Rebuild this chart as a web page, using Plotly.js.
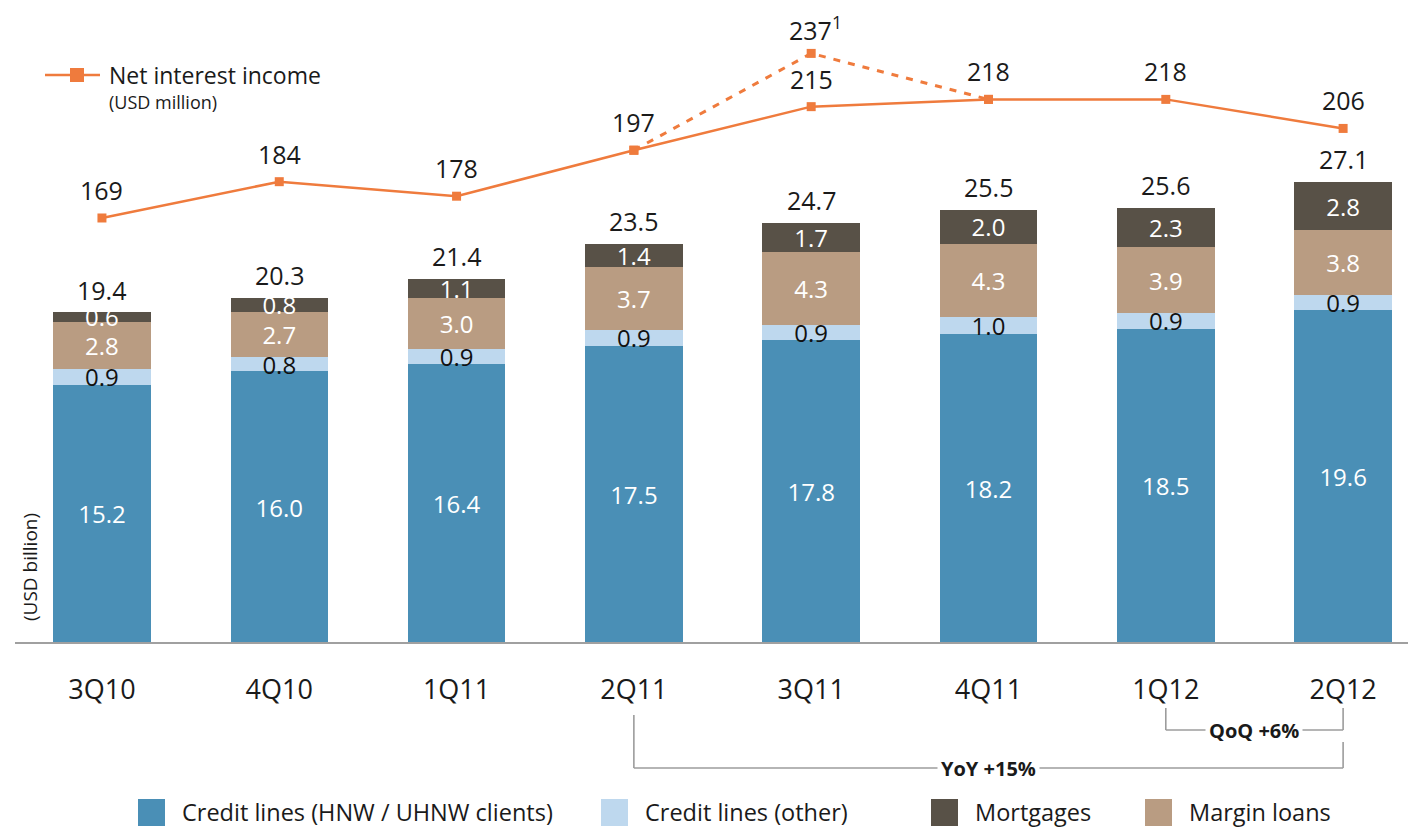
<!DOCTYPE html>
<html>
<head>
<meta charset="utf-8">
<script src="https://cdn.plot.ly/plotly-3.0.1.min.js"></script>
<style>html,body{margin:0;padding:0;background:#fff;}#chart{width:1408px;height:830px;}</style>
</head>
<body>
<div id="chart"></div>
<script>
// ---- data ----
var categories = ['3Q10','4Q10','1Q11','2Q11','3Q11','4Q11','1Q12','2Q12'];
var creditHNW   = [15.2, 16.0, 16.4, 17.5, 17.8, 18.2, 18.5, 19.6];
var creditOther = [0.9, 0.8, 0.9, 0.9, 0.9, 1.0, 0.9, 0.9];
var marginLoans = [2.8, 2.7, 3.0, 3.7, 4.3, 4.3, 3.9, 3.8];
var mortgages   = [0.6, 0.8, 1.1, 1.4, 1.7, 2.0, 2.3, 2.8];
var totals      = [19.4, 20.3, 21.4, 23.5, 24.7, 25.5, 25.6, 27.1];
var netInterestIncome = [169, 184, 178, 197, 215, 218, 218, 206];
var niiAdjCats  = ['2Q11','3Q11','4Q11'];
var niiAdjVals  = [197, 237, 218];
var niiAdjLabel = '237';
var seriesNames = ['Credit lines (HNW / UHNW clients)','Credit lines (other)','Mortgages','Margin loans'];
var lineName = 'Net interest income';
var lineUnit = '(USD million)';
var barUnit = '(USD billion)';
var yoyLabel = 'YoY +15%';
var qoqLabel = 'QoQ +6%';

// ---- styles ----
var FONT = 'Open Sans, Noto Sans, DejaVu Sans, sans-serif';
var C_HNW = '#4a8fb6', C_OTHER = '#bed8ee', C_MORT = '#585147', C_MARGIN = '#b99c82', C_LINE = '#ef7b3d';
var TXT = '#1a1a1a';

function fmt(a){ return a.map(function(v){ return v.toFixed(1); }); }
function barTrace(name, vals, color, txtColor){
  return {type:'bar', name:name, x:categories, y:vals, marker:{color:color, line:{width:0}},
    text:fmt(vals), textposition:'inside', insidetextanchor:'middle', constraintext:'none', textangle:0,
    insidetextfont:{family:FONT, size:24, color:txtColor}, hoverinfo:'skip', cliponaxis:false};
}
var traces = [
  barTrace(seriesNames[0], creditHNW, C_HNW, '#ffffff'),
  barTrace(seriesNames[1], creditOther, C_OTHER, '#111111'),
  barTrace(seriesNames[3], marginLoans, C_MARGIN, '#ffffff'),
  barTrace(seriesNames[2], mortgages, C_MORT, '#ffffff'),
  {type:'scatter', mode:'lines+markers', x:niiAdjCats, y:niiAdjVals, yaxis:'y2',
   line:{color:C_LINE, width:3, dash:'7px,8px'}, marker:{symbol:'square', size:9, color:C_LINE}, cliponaxis:false, hoverinfo:'skip'},
  {type:'scatter', mode:'lines+markers', name:lineName, x:categories, y:netInterestIncome, yaxis:'y2',
   line:{color:C_LINE, width:2.5}, marker:{symbol:'square', size:9, color:C_LINE}, cliponaxis:false, hoverinfo:'skip'}
];

// ---- geometry helpers (paper coords) ----
var W = 1408, PT = 20, PB = 643, PH = PB - PT;
function px(p){ return p / W; }
function py(p){ return (PB - p) / PH; }

var annotations = [];
categories.forEach(function(c, i){
  annotations.push({x:c, y:totals[i], xref:'x', yref:'y', text:totals[i].toFixed(1), showarrow:false,
    yanchor:'middle', yshift:23, font:{family:FONT, size:25, color:TXT}});
  annotations.push({x:c, y:netInterestIncome[i], xref:'x', yref:'y2', text:String(netInterestIncome[i]), showarrow:false,
    yanchor:'middle', yshift:28, font:{family:FONT, size:25, color:TXT}});
});
annotations.push({x:niiAdjCats[1], y:niiAdjVals[1], xref:'x', yref:'y2', text:niiAdjLabel + '<sup>1</sup>', showarrow:false,
  yanchor:'middle', yshift:25, xshift:4, font:{family:FONT, size:25, color:TXT}});

// top-left line legend
annotations.push({x:px(107), y:py(75), xref:'paper', yref:'paper', xanchor:'left', yanchor:'middle', showarrow:false,
  text:lineName, font:{family:FONT, size:23, color:TXT}});
annotations.push({x:px(107), y:py(102), xref:'paper', yref:'paper', xanchor:'left', yanchor:'middle', showarrow:false,
  text:lineUnit, font:{family:FONT, size:18, color:TXT}});
// y unit label
annotations.push({x:px(30), y:py(567), xref:'paper', yref:'paper', xanchor:'center', yanchor:'middle', showarrow:false,
  textangle:-90, text:barUnit, font:{family:FONT, size:19, color:TXT}});

var shapes = [
  {type:'line', xref:'paper', yref:'paper', x0:px(15), x1:1, y0:0, y1:0, line:{color:'#a0a0a0', width:2}},
  {type:'line', xref:'paper', yref:'paper', x0:px(45), x1:px(100), y0:py(75), y1:py(75), line:{color:C_LINE, width:2.5}},
  {type:'rect', xref:'paper', yref:'paper', x0:px(70), x1:px(84), y0:py(68), y1:py(82), fillcolor:C_LINE, line:{width:0}}
];

// bottom legend
var legendItems = [
  {name:seriesNames[0], color:C_HNW, sx:138},
  {name:seriesNames[1], color:C_OTHER, sx:601},
  {name:seriesNames[2], color:C_MORT, sx:931},
  {name:seriesNames[3], color:C_MARGIN, sx:1145}
];
legendItems.forEach(function(it){
  shapes.push({type:'rect', xref:'paper', yref:'paper', x0:px(it.sx), x1:px(it.sx+27), y0:py(799), y1:py(826), fillcolor:it.color, line:{width:0}});
  annotations.push({x:px(it.sx+42), y:py(812), xref:'paper', yref:'paper', xanchor:'left', yanchor:'middle', showarrow:false,
    text:it.name, font:{family:FONT, size:23.5, color:TXT}});
});

// brackets
var BR = {color:'#9c9c9c', width:1.6};
var iYoY0 = categories.indexOf('2Q11'), iQoQ0 = categories.indexOf('1Q12'), iEnd = categories.indexOf('2Q12');
shapes.push({type:'line', xref:'x', yref:'paper', x0:iYoY0, x1:iYoY0, y0:py(715), y1:py(768), line:BR});
shapes.push({type:'line', xref:'x', yref:'paper', x0:iYoY0, x1:iEnd, y0:py(768), y1:py(768), line:BR});
shapes.push({type:'line', xref:'x', yref:'paper', x0:iEnd, x1:iEnd, y0:py(742), y1:py(768), line:BR});
shapes.push({type:'line', xref:'x', yref:'paper', x0:iQoQ0, x1:iQoQ0, y0:py(708), y1:py(730), line:BR});
shapes.push({type:'line', xref:'x', yref:'paper', x0:iQoQ0, x1:iEnd, y0:py(730), y1:py(730), line:BR});
shapes.push({type:'line', xref:'x', yref:'paper', x0:iEnd, x1:iEnd, y0:py(708), y1:py(730), line:BR});
annotations.push({x:(iYoY0+iEnd)/2, y:py(768), xref:'x', yref:'paper', xanchor:'center', yanchor:'middle', showarrow:false,
  text:'<b>'+yoyLabel+'</b>', bgcolor:'#ffffff', borderpad:3, font:{family:FONT, size:20, color:TXT}});
annotations.push({x:(iQoQ0+iEnd)/2, y:py(730), xref:'x', yref:'paper', xanchor:'center', yanchor:'middle', showarrow:false,
  text:'<b>'+qoqLabel+'</b>', bgcolor:'#ffffff', borderpad:3, font:{family:FONT, size:20, color:TXT}});

var layout = {
  width:1408, height:830,
  margin:{l:0, r:0, t:PT, b:830-PB},
  paper_bgcolor:'#ffffff', plot_bgcolor:'#ffffff',
  barmode:'stack', bargap:0.45, showlegend:false,
  font:{family:FONT, color:TXT},
  xaxis:{type:'category', range:[-0.575, 7.366], showgrid:false, zeroline:false, showline:false, ticks:'',
    tickfont:{family:FONT, size:27, color:TXT}, ticklabelstandoff:28, fixedrange:true},
  yaxis:{range:[0, 36.65], visible:false, fixedrange:true},
  yaxis2:{range:[-6.6, 250.8], overlaying:'y', visible:false, fixedrange:true},
  annotations:annotations, shapes:shapes
};
Plotly.newPlot('chart', traces, layout, {displayModeBar:false, staticPlot:true});
</script>
</body>
</html>
